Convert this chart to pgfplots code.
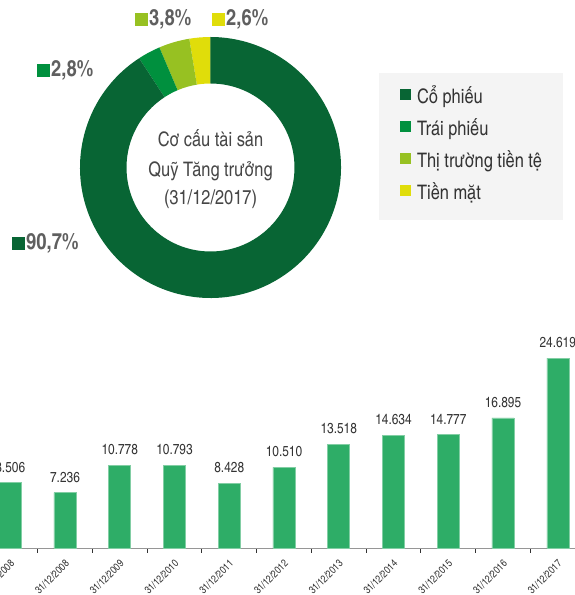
\documentclass[border=0pt]{standalone}
\usepackage{fontspec}
\setmainfont{texgyreheroscn}[Extension=.otf, UprightFont=*-regular, BoldFont=*-bold, ItalicFont=*-italic, BoldItalicFont=*-bolditalic]
\usepackage{pgfplots}
\usepackage{pgfplotstable}
\pgfplotsset{compat=1.18}

\definecolor{cophieu}{RGB}{8,101,52}
\definecolor{traiphieu}{RGB}{0,144,62}
\definecolor{tiente}{RGB}{151,193,34}
\definecolor{tienmat}{RGB}{224,221,10}
\definecolor{bargreen}{RGB}{46,173,103}
\definecolor{legendbg}{RGB}{244,244,244}
\definecolor{textdark}{RGB}{51,51,51}
\definecolor{centergray}{RGB}{70,70,70}
\definecolor{labelgray}{RGB}{95,95,95}
\definecolor{axisgray}{RGB}{150,150,150}

% co cau tai san, theo thu tu nguoc chieu kim dong ho tu dinh
\pgfplotstableread{
share
2.6
3.8
2.8
90.7
}\donutdata

% gia tri tai san rong (ty dong)
\pgfplotstableread{
x value date
0 8.506 01/01/2008
1 7.236 31/12/2008
2 10.778 31/12/2009
3 10.793 31/12/2010
4 8.428 31/12/2011
5 10.510 31/12/2012
6 13.518 31/12/2013
7 14.634 31/12/2014
8 14.777 31/12/2015
9 16.895 31/12/2016
10 24.619 31/12/2017
}\navdata

\begin{document}
\begin{tikzpicture}
\useasboundingbox (0pt,0pt) rectangle (575pt,595pt);

\pgfplotstablegetelem{0}{share}\of\donutdata \pgfmathsetmacro\sA{\pgfplotsretval}
\pgfplotstablegetelem{1}{share}\of\donutdata \pgfmathsetmacro\sB{\pgfplotsretval}
\pgfplotstablegetelem{2}{share}\of\donutdata \pgfmathsetmacro\sC{\pgfplotsretval}
\pgfplotstablegetelem{3}{share}\of\donutdata \pgfmathsetmacro\sD{\pgfplotsretval}
\pgfmathsetmacro\tot{\sA+\sB+\sC+\sD}
\pgfmathsetmacro\aZ{90}
\pgfmathsetmacro\aA{\aZ+\sA/\tot*360}
\pgfmathsetmacro\aB{\aA+\sB/\tot*360}
\pgfmathsetmacro\aC{\aB+\sC/\tot*360}
\pgfmathsetmacro\aD{\aC+\sD/\tot*360}
\def\rin{0.6437}

\begin{axis}[
  at={(210.5pt,427.5pt)}, anchor=center,
  scale only axis, width=261pt, height=261pt,
  xmin=-1, xmax=1, ymin=-1, ymax=1,
  hide axis, clip=false,
  legend style={at={(1.1456,0.862)}, anchor=north west,
    fill=legendbg, draw=none, inner xsep=21pt, inner ysep=12.5pt,
    row sep=6pt, font=\fontsize{20}{24}\selectfont, text=textdark,
    nodes={inner xsep=0pt, inner ysep=3pt, text height=15pt, text depth=5pt},
    /tikz/every odd column/.append style={column sep=6.5pt}},
  legend cell align=left,
  legend image code/.code={\fill[#1] (0pt,0pt) rectangle (10pt,10pt);},
]
\addlegendimage{cophieu}
\addlegendentry{Cổ phiếu}
\addlegendimage{traiphieu}
\addlegendentry{Trái phiếu}
\addlegendimage{tiente}
\addlegendentry{Thị trường tiền tệ}
\addlegendimage{tienmat}
\addlegendentry{Tiền mặt}

\fill[tienmat] (axis cs:{cos(\aZ)},{sin(\aZ)}) arc[start angle=\aZ, end angle=\aA, radius=130.5pt]
  -- (axis cs:{\rin*cos(\aA)},{\rin*sin(\aA)}) arc[start angle=\aA, end angle=\aZ, radius=84pt] -- cycle;
\fill[tiente] (axis cs:{cos(\aA)},{sin(\aA)}) arc[start angle=\aA, end angle=\aB, radius=130.5pt]
  -- (axis cs:{\rin*cos(\aB)},{\rin*sin(\aB)}) arc[start angle=\aB, end angle=\aA, radius=84pt] -- cycle;
\fill[traiphieu] (axis cs:{cos(\aB)},{sin(\aB)}) arc[start angle=\aB, end angle=\aC, radius=130.5pt]
  -- (axis cs:{\rin*cos(\aC)},{\rin*sin(\aC)}) arc[start angle=\aC, end angle=\aB, radius=84pt] -- cycle;
\fill[cophieu] (axis cs:{cos(\aC)},{sin(\aC)}) arc[start angle=\aC, end angle=\aD, radius=130.5pt]
  -- (axis cs:{\rin*cos(\aD)},{\rin*sin(\aD)}) arc[start angle=\aD, end angle=\aC, radius=84pt] -- cycle;
\end{axis}

\begin{axis}[
  at={(0pt,46.5pt)}, anchor=south west,
  scale only axis, width=575pt, height=250pt,
  xmin=-0.1872, xmax=10.3151, ymin=0, ymax=32.34,
  ybar, bar width=22pt,
  axis x line*=bottom, axis y line=none,
  x axis line style={draw=axisgray, line width=1.2pt},
  xtick={0,...,10},
  xticklabels from table={\navdata}{date},
  major tick length=0pt,
  extra x ticks={0.5,1.5,...,9.5},
  extra x tick labels={},
  extra x tick style={major tick length=4pt, tick align=outside,
    tick style={draw=textdark, line width=0.8pt}},
  xticklabel style={rotate=45, anchor=north east, inner sep=0pt, xshift=-1pt,
    font=\fontsize{10.5}{12}\selectfont, text=textdark},
  xticklabel shift=9.5pt,
  point meta=y,
  nodes near coords={\pgfmathprintnumber[fixed, fixed zerofill, precision=3, assume math mode=true]{\pgfplotspointmeta}},
  nodes near coords style={font=\fontsize{14.5}{17}\selectfont, text=textdark,
    anchor=south, inner sep=0pt, yshift=10pt},
  clip=false,
]
\addplot[fill=bargreen, draw=bargreen!60!white, line width=0.5pt] table[x=x, y=value] {\navdata};
\end{axis}

\begin{scope}[every node/.style={anchor=base west, inner sep=0pt, text=labelgray,
    font=\bfseries\fontsize{22.5}{26}\selectfont}]
\node at (135pt,569pt) {\textcolor{tiente}{\rule{12.5pt}{12.5pt}}\hspace{1.5pt}\pgfmathprintnumber[fixed, precision=1, use comma, assume math mode=true]{\sB}\%};
\node at (212pt,569pt) {\textcolor{tienmat}{\rule{12.5pt}{12.5pt}}\hspace{1.5pt}\pgfmathprintnumber[fixed, precision=1, use comma, assume math mode=true]{\sA}\%};
\node at (37pt,518pt) {\textcolor{traiphieu}{\rule{12.5pt}{12.5pt}}\hspace{1.5pt}\pgfmathprintnumber[fixed, precision=1, use comma, assume math mode=true]{\sC}\%};
\node at (12pt,345pt) {\textcolor{cophieu}{\rule{12.5pt}{12.5pt}}\hspace{1.5pt}\pgfmathprintnumber[fixed, precision=1, use comma, assume math mode=true]{\sD}\%};
\end{scope}

\begin{scope}[every node/.style={anchor=base, inner sep=0pt, text=centergray,
    font=\fontsize{20}{24}\selectfont}]
\node at (210.5pt,448.3pt) {Cơ cấu tài sản};
\node at (210.5pt,418.3pt) {Quỹ Tăng trưởng};
\node at (210.5pt,390pt) {(31/12/2017)};
\end{scope}
\end{tikzpicture}
\end{document}
